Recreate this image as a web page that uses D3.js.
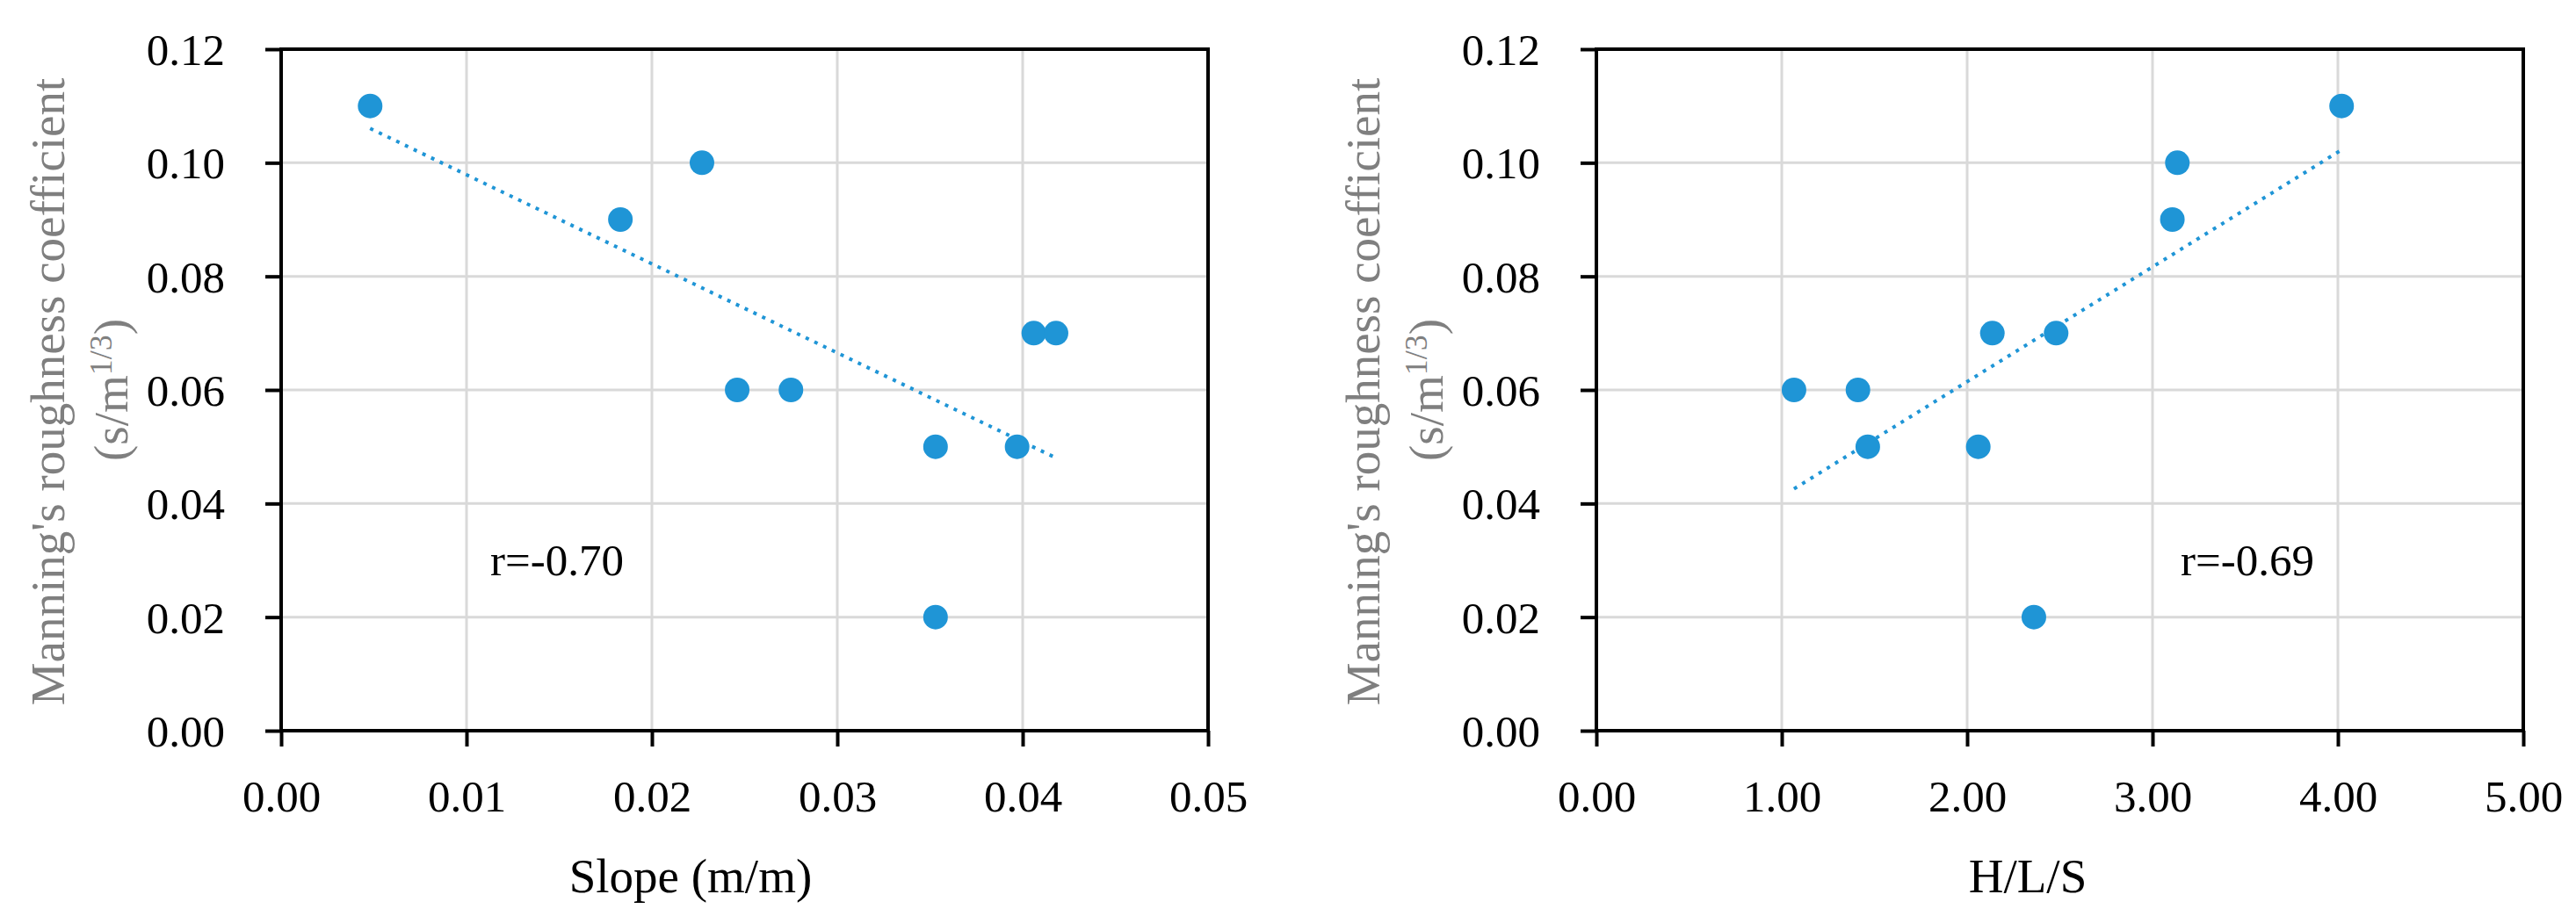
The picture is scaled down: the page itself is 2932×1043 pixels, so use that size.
<!DOCTYPE html>
<html>
<head>
<meta charset="utf-8">
<script src="https://cdn.jsdelivr.net/npm/d3@7"></script>
<style>
    body { margin: 0; background: #fff; }
    svg text { font-family: "Liberation Serif", "Times New Roman", serif; }
</style>
</head>
<body>
<div id="chart"></div>
<script>

// data
var slopeX = [0.0048, 0.0183, 0.0227, 0.0246, 0.0275, 0.0353, 0.0353, 0.0397, 0.0406, 0.0418];
var slopeN = [0.11, 0.09, 0.10, 0.06, 0.06, 0.05, 0.02, 0.05, 0.07, 0.07];

var hlsX = [1.066, 1.411, 1.464, 2.06, 2.136, 2.36, 2.48, 3.107, 3.134, 4.02];
var hlsN = [0.06, 0.06, 0.05, 0.05, 0.07, 0.02, 0.07, 0.09, 0.10, 0.11];

var yTicks = [0, 0.02, 0.04, 0.06, 0.08, 0.10, 0.12];
var slopeTicks = [0, 0.01, 0.02, 0.03, 0.04, 0.05];
var hlsTicks = [0, 1, 2, 3, 4, 5];

var rLabels = ["r=-0.70", "r=-0.69"];
var xTitles = ["Slope (m/m)", "H/L/S"];

var svgWidth = 2932;
var svgHeight = 1043;

var svg = d3.select("#chart")
    .append("svg")
    .attr("width", svgWidth)
    .attr("height", svgHeight);

var blue = "#1f95d6";

// plain least squares fit for the dotted trend line
function fit(xs, ys) {
    var mx = d3.mean(xs), my = d3.mean(ys);
    var sxy = d3.sum(xs, (x, i) => (x - mx) * (ys[i] - my));
    var sxx = d3.sum(xs, x => (x - mx) * (x - mx));
    var b = sxy / sxx;
    return { b: b, a: my - b * mx };
}

function drawPanel(opt) {
    var width = 1055, height = 776;

    var g = svg.append("g")
        .attr("transform", `translate(${opt.left}, 56)`);

    var x = d3.scaleLinear().domain(opt.xDomain).range([0, width]);
    var y = d3.scaleLinear().domain([0, 0.12]).range([height, 0]);

    // grid
    g.append("g").selectAll("line")
        .data(yTicks)
        .enter().append("line")
        .attr("x1", 0).attr("x2", width)
        .attr("y1", d => y(d)).attr("y2", d => y(d))
        .attr("stroke", "#d9d9d9").attr("stroke-width", 3);

    g.append("g").selectAll("line")
        .data(opt.xTicks)
        .enter().append("line")
        .attr("x1", d => x(d)).attr("x2", d => x(d))
        .attr("y1", 0).attr("y2", height)
        .attr("stroke", "#d9d9d9").attr("stroke-width", 3);

    // axes
    var yAxis = d3.axisLeft(y).tickValues(yTicks)
        .tickFormat(d3.format(".2f")).tickSize(18).tickPadding(46);
    var xAxis = d3.axisBottom(x).tickValues(opt.xTicks)
        .tickFormat(d3.format(".2f")).tickSize(18).tickPadding(38);

    var ya = g.append("g").call(yAxis);
    var xa = g.append("g").attr("transform", `translate(0, ${height})`).call(xAxis);

    [ya, xa].forEach(a => {
        a.select(".domain").remove();
        a.selectAll(".tick line").attr("stroke", "#000").attr("stroke-width", 4);
        a.selectAll(".tick text")
            .attr("font-size", "51px")
            .attr("fill", "#000")
            .style("font-family", "'Liberation Serif', serif");
    });
    ya.selectAll(".tick text").attr("dy", "0.34em");

    // frame
    g.append("rect")
        .attr("width", width).attr("height", height)
        .attr("fill", "none")
        .attr("stroke", "#000").attr("stroke-width", 4);

    // trend line
    var f = fit(opt.xs, opt.ys);
    var x0 = d3.min(opt.xs), x1 = d3.max(opt.xs);
    g.append("line")
        .attr("x1", x(x0)).attr("y1", y(f.a + f.b * x0))
        .attr("x2", x(x1)).attr("y2", y(f.a + f.b * x1))
        .attr("stroke", blue)
        .attr("stroke-width", 4)
        .attr("stroke-dasharray", "4,7");

    // points
    g.selectAll("circle")
        .data(opt.xs)
        .enter()
        .append("circle")
        .attr("cx", d => x(d))
        .attr("cy", (d, i) => y(opt.ys[i]))
        .attr("r", 14)
        .attr("fill", blue);

    // r label
    g.append("text")
        .attr("x", opt.rx - opt.left)
        .attr("y", 655 - 56)
        .attr("text-anchor", "middle")
        .attr("font-size", "51px")
        .text(opt.rLabel);

    // x title
    svg.append("text")
        .attr("x", opt.titleX)
        .attr("y", 1016)
        .attr("text-anchor", "middle")
        .attr("font-size", "55px")
        .attr("fill", "#000")
        .text(opt.xTitle);

    // y title, two lines
    var yt = opt.left - 320;
    svg.append("text")
        .attr("transform", `translate(${73 + yt}, 446) rotate(-90)`)
        .attr("text-anchor", "middle")
        .attr("font-size", "55px")
        .attr("fill", "#7f7f7f")
        .text("Manning's roughness coefficient");

    var t2 = svg.append("text")
        .attr("transform", `translate(${145 + yt}, 444) rotate(-90)`)
        .attr("text-anchor", "middle")
        .attr("font-size", "55px")
        .attr("fill", "#7f7f7f");
    t2.append("tspan").text("(s/m");
    t2.append("tspan").attr("font-size", "36px").attr("dy", "-18").text("1/3");
    t2.append("tspan").attr("dy", "18").text(")");
}

drawPanel({
    left: 320,
    xDomain: [0, 0.05],
    xTicks: slopeTicks,
    xs: slopeX,
    ys: slopeN,
    rLabel: rLabels[0],
    rx: 634,
    xTitle: xTitles[0],
    titleX: 786
});

drawPanel({
    left: 1817,
    xDomain: [0, 5],
    xTicks: hlsTicks,
    xs: hlsX,
    ys: hlsN,
    rLabel: rLabels[1],
    rx: 2558,
    xTitle: xTitles[1],
    titleX: 2308
});

</script>
</body>
</html>
